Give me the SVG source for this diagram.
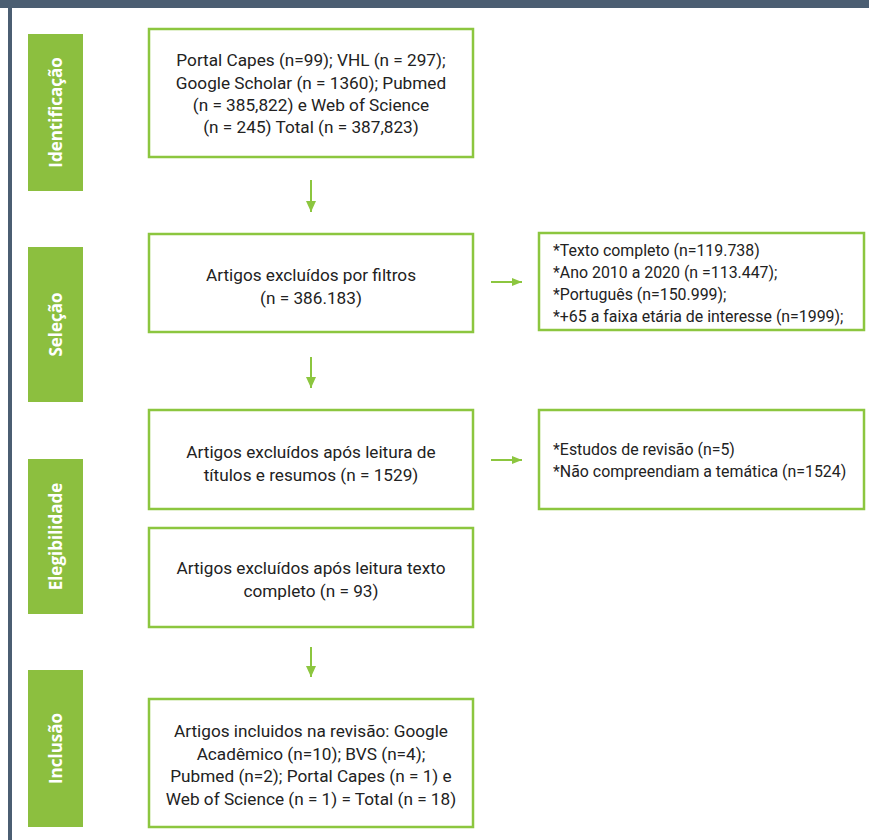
<svg xmlns="http://www.w3.org/2000/svg" width="869" height="840" viewBox="0 0 869 840">
<style>
.box{fill:#fff;stroke:#8cc63f;stroke-width:2.5}
.stage{fill:#8cbf3f}
.stl{font-family:"Open Sans","Noto Sans",sans-serif;font-weight:bold;font-size:17px;fill:#fff;text-anchor:middle}
.t{font-family:Roboto,"Noto Sans",sans-serif;font-size:17.2px;fill:#222;text-anchor:middle}
.tl{font-family:Roboto,"Noto Sans",sans-serif;font-size:15.9px;fill:#222}
.ln{stroke:#8cc63f;stroke-width:2;fill:none}
</style>
<rect x="0" y="0" width="869" height="840" fill="#fff"/>
<rect x="0" y="0" width="869" height="8" fill="#4b5e72"/>
<rect x="8" y="0" width="4" height="840" fill="#4b5e72"/>

<g id="stage-identificacao"><rect class="stage" x="28" y="34" width="55" height="157"/><text class="stl" transform="translate(62,112.5) rotate(-90)">Identificação</text></g>
<g id="stage-selecao"><rect class="stage" x="28" y="247" width="55" height="155"/><text class="stl" transform="translate(62,324.5) rotate(-90)">Seleção</text></g>
<g id="stage-elegibilidade"><rect class="stage" x="28" y="459" width="55" height="155"/><text class="stl" transform="translate(62,536.5) rotate(-90)">Elegibilidade</text></g>
<g id="stage-inclusao"><rect class="stage" x="28" y="670" width="55" height="157"/><text class="stl" transform="translate(62,748.5) rotate(-90)">Inclusão</text></g>

<g id="connectors">
<line class="ln" x1="311" y1="180" x2="311" y2="212"/><path d="M306,201 L316,201 L311,212 z" fill="#8cc63f"/>
<line class="ln" x1="311" y1="357" x2="311" y2="388"/><path d="M306,377 L316,377 L311,388 z" fill="#8cc63f"/>
<line class="ln" x1="311" y1="647" x2="311" y2="677"/><path d="M306,666 L316,666 L311,677 z" fill="#8cc63f"/>
<line class="ln" x1="491" y1="282" x2="522" y2="282" stroke-width="1.5"/><path d="M512,278 L522,282 L512,286 z" fill="#8cc63f"/>
<line class="ln" x1="491" y1="460" x2="522" y2="460" stroke-width="1.5"/><path d="M512,456 L522,460 L512,464 z" fill="#8cc63f"/>
</g>

<g id="box-identificacao"><rect class="box" x="149" y="29" width="324" height="128"/>
<text class="t" x="311" y="66">Portal Capes (n=99); VHL (n = 297);</text>
<text class="t" x="311" y="88.5">Google Scholar (n = 1360); Pubmed</text>
<text class="t" x="311" y="111">(n = 385,822) e Web of Science</text>
<text class="t" x="311" y="133">(n = 245) Total (n = 387,823)</text></g>

<g id="box-filtros"><rect class="box" x="149" y="234" width="324" height="98"/>
<text class="t" x="311" y="281">Artigos excluídos por filtros</text>
<text class="t" x="311" y="304">(n = 386.183)</text></g>

<g id="box-filtros-detalhe"><rect class="box" x="539" y="233" width="325" height="97"/>
<text class="tl" x="553" y="256">*Texto completo (n=119.738)</text>
<text class="tl" x="553" y="278">*Ano 2010 a 2020 (n =113.447);</text>
<text class="tl" x="553" y="300">*Português (n=150.999);</text>
<text class="tl" x="553" y="322">*+65 a faixa etária de interesse (n=1999);</text></g>

<g id="box-titulos"><rect class="box" x="149" y="410" width="324" height="99"/>
<text class="t" x="311" y="458">Artigos excluídos após leitura de</text>
<text class="t" x="311" y="481">títulos e resumos (n = 1529)</text></g>

<g id="box-titulos-detalhe"><rect class="box" x="539" y="410" width="325" height="99"/>
<text class="tl" x="553" y="455">*Estudos de revisão (n=5)</text>
<text class="tl" x="553" y="477">*Não compreendiam a temática (n=1524)</text></g>

<g id="box-texto-completo"><rect class="box" x="149" y="528" width="324" height="99"/>
<text class="t" x="311" y="574">Artigos excluídos após leitura texto</text>
<text class="t" x="311" y="597">completo (n = 93)</text></g>

<g id="box-inclusao"><rect class="box" x="149" y="699" width="324" height="128"/>
<text class="t" x="311" y="737">Artigos incluidos na revisão: Google</text>
<text class="t" x="311" y="760">Acadêmico (n=10); BVS (n=4);</text>
<text class="t" x="311" y="782">Pubmed (n=2); Portal Capes (n = 1) e</text>
<text class="t" x="311" y="805">Web of Science (n = 1) = Total (n = 18)</text></g>
</svg>
